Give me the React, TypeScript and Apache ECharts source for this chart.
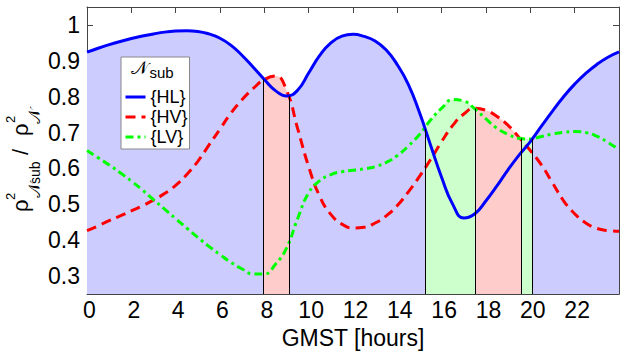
import React, { useEffect, useRef } from "react";
import * as echarts from "echarts";

const hours = [0, 0.5, 1, 1.5, 2, 2.5, 3, 3.5, 4, 4.5, 5, 5.5, 6, 6.5, 7, 7.5, 8, 8.5, 9, 9.5, 10, 10.5, 11, 11.5, 12, 12.5, 13, 13.5, 14, 14.5, 15, 15.5, 16, 16.5, 17, 17.5, 18, 18.5, 19, 19.5, 20, 20.5, 21, 21.5, 22, 22.5, 23, 23.5, 24];

const hlValues = [0.924, 0.935, 0.945, 0.954, 0.962, 0.969, 0.975, 0.98, 0.983, 0.984, 0.982, 0.975, 0.963, 0.943, 0.915, 0.882, 0.848, 0.817, 0.802, 0.818, 0.866, 0.915, 0.95, 0.969, 0.974, 0.968, 0.955, 0.93, 0.889, 0.834, 0.756, 0.665, 0.575, 0.5, 0.462, 0.474, 0.51, 0.552, 0.597, 0.638, 0.675, 0.718, 0.76, 0.8, 0.835, 0.865, 0.89, 0.91, 0.925];

const hvValues = [0.427, 0.44, 0.455, 0.468, 0.482, 0.496, 0.512, 0.53, 0.553, 0.583, 0.62, 0.665, 0.71, 0.755, 0.792, 0.823, 0.848, 0.858, 0.818, 0.712, 0.605, 0.522, 0.472, 0.445, 0.434, 0.436, 0.448, 0.468, 0.497, 0.535, 0.578, 0.625, 0.675, 0.72, 0.752, 0.768, 0.762, 0.745, 0.72, 0.686, 0.65, 0.61, 0.56, 0.51, 0.474, 0.448, 0.433, 0.427, 0.425];

const lvValues = [0.65, 0.63, 0.61, 0.588, 0.565, 0.54, 0.513, 0.487, 0.46, 0.434, 0.408, 0.383, 0.36, 0.338, 0.32, 0.306, 0.306, 0.333, 0.378, 0.46, 0.532, 0.566, 0.583, 0.591, 0.595, 0.599, 0.605, 0.617, 0.636, 0.663, 0.695, 0.735, 0.768, 0.792, 0.788, 0.766, 0.738, 0.712, 0.695, 0.684, 0.682, 0.689, 0.696, 0.701, 0.703, 0.7, 0.69, 0.673, 0.652];

const seriesNames = ["{HL}", "{HV}", "{LV}"];
// x positions where the dominant subnetwork changes, and curve height there
const boundaries = [7.95, 9.13, 15.26, 17.53, 19.6, 20.1];
const boundaryTops = [0.848, 0.801, 0.709, 0.767, 0.684, 0.682];
// index of the dominant series in each region between boundaries (0=HL,1=HV,2=LV)
const regionOwner = [0, 1, 0, 2, 1, 2, 0];

const lineColors = ["#0000ff", "#ff0000", "#00ff00"];
const fillColors = ["#ccccff", "#ffcccc", "#ccffcc"];
const FF = "'Liberation Sans', Arial, sans-serif";
const MATHF = "'DejaVu Sans', 'DejaVu Serif', 'Noto Sans', sans-serif";
const FRAME = "#444";

export default function App() {
  const ref = useRef<HTMLDivElement>(null);
  useEffect(() => {
    if (!ref.current) return;
    const chart = echarts.init(ref.current, undefined, { renderer: "svg" });
    const all = [hlValues, hvValues, lvValues];
    const pairs = all.map((vals) => hours.map((h, i) => [h, vals[i]]));

    const fillSeries = all.map((_, s) => ({
      type: "line",
      name: "fill" + s,
      data: pairs[s],
      smooth: true,
      symbol: "none",
      lineStyle: { width: 0, opacity: 0 },
      areaStyle: { opacity: 1, origin: "start" },
      silent: true,
      z: 1,
      ...(s === 2
        ? {
            markLine: {
              silent: true,
              symbol: ["none", "none"],
              label: { show: false },
              lineStyle: { color: "#000", width: 1, type: "solid" },
              data: boundaries.map((b, i) => [
                { coord: [b, 0.25] },
                { coord: [b, boundaryTops[i]] },
              ]),
            },
          }
        : {}),
    }));

    const visualMaps = all.map((_, s) => ({
      type: "piecewise",
      show: false,
      dimension: 0,
      seriesIndex: s,
      pieces: regionOwner.map((owner, r) => {
        const p: any = { color: owner === s ? fillColors[s] : "rgba(0,0,0,0)" };
        if (r > 0) p.gte = boundaries[r - 1];
        if (r < boundaries.length) p.lt = boundaries[r];
        return p;
      }),
    }));

    const lineDefs = [
      { s: 1, type: [10, 6] },
      { s: 2, type: [8, 4, 3, 4] },
      { s: 0, type: "solid" },
    ];
    const lineSeries = lineDefs.map((d) => ({
      type: "line",
      name: seriesNames[d.s],
      data: pairs[d.s],
      smooth: true,
      symbol: "none",
      color: lineColors[d.s],
      lineStyle: { color: lineColors[d.s], width: 3, type: d.type as any },
      z: 3,
    }));

    const yFmt = (v: number) => {
      if (Math.abs(v - 0.25) < 1e-6 || Math.abs(v - 1.05) < 1e-6) return "";
      if (Math.abs(v - 1) < 1e-6) return "1";
      return v.toFixed(1);
    };

    const axisCommon = {
      axisLine: { show: true, onZero: false, lineStyle: { color: FRAME, width: 1 } },
      axisTick: { show: true, inside: true, length: 6, lineStyle: { color: FRAME, width: 1 } },
      splitLine: { show: false },
    };

    const txt = (x: number, y: number, text: string, size: number, family: string) => ({
      type: "text",
      x,
      y,
      style: { text, fontSize: size, fontFamily: family, fill: "#000", align: "left", verticalAlign: "middle" },
    });

    chart.setOption({
      animation: false,
      backgroundColor: "#fff",
      grid: { left: 87, top: 7, width: 532, height: 290, containLabel: false },
      xAxis: [
        {
          type: "value",
          min: 0,
          max: 24,
          interval: 2,
          position: "bottom",
          ...axisCommon,
          axisLabel: {
            fontSize: 23,
            color: "#000",
            fontFamily: FF,
            margin: 4,
            padding: [0, 0, 0, 5],
            formatter: (v: number) => (v >= 24 ? "" : String(v)),
          },
          name: "GMST [hours]",
          nameLocation: "middle",
          nameGap: 30,
          nameTextStyle: { fontSize: 23, color: "#000", fontFamily: FF },
        },
        {
          type: "value",
          min: 0,
          max: 24,
          interval: 2,
          position: "top",
          ...axisCommon,
          axisLabel: { show: false },
        },
      ],
      yAxis: [
        {
          type: "value",
          min: 0.25,
          max: 1.05,
          splitNumber: 8,
          position: "left",
          ...axisCommon,
          axisLabel: { fontSize: 23, color: "#000", fontFamily: FF, margin: 7, formatter: yFmt },
        },
        {
          type: "value",
          min: 0.25,
          max: 1.05,
          splitNumber: 8,
          position: "right",
          ...axisCommon,
          axisLabel: { show: false },
        },
      ],
      visualMap: visualMaps,
      legend: {
        data: seriesNames,
        orient: "vertical",
        left: 121,
        top: 57,
        padding: [31, 2, 3, 3],
        itemGap: 2,
        itemWidth: 20,
        itemHeight: 10,
        itemStyle: { color: "rgba(0,0,0,0)", borderWidth: 0, opacity: 0 },
        lineStyle: { width: 3 },
        backgroundColor: "#fff",
        borderColor: "#888",
        borderWidth: 1,
        borderRadius: 0,
        textStyle: { fontSize: 18, color: "#000", fontFamily: FF },
        selectedMode: false,
      },
      graphic: [
        {
          type: "text",
          x: 139,
          y: 67.5,
          z: 100,
          style: { text: "𝒩", fontSize: 18, fontFamily: MATHF, fill: "#000", align: "center", verticalAlign: "middle" },
        },
        {
          type: "text",
          x: 161.5,
          y: 72.8,
          z: 100,
          style: { text: "sub", fontSize: 15, fontFamily: FF, fill: "#000", align: "center", verticalAlign: "middle" },
        },
        {
          type: "group",
          x: 28,
          y: 212,
          rotation: Math.PI / 2,
          z: 100,
          children: [
            txt(0, -7.7, "ρ", 22, FF),
            txt(12, -17.5, "2", 13, FF),
            txt(14, 6, "𝒩", 16, MATHF),
            txt(28, 7, "sub", 14, FF),
            txt(57, -7.7, "/", 22, FF),
            txt(76, -7.7, "ρ", 22, FF),
            txt(89, -17.5, "2", 13, FF),
            txt(88, 6, "𝒩", 16, MATHF),
          ],
        },
      ],
      series: [...fillSeries, ...lineSeries],
    });
    return () => chart.dispose();
  }, []);
  return (
    <div
      ref={ref}
      style={{ position: "fixed", left: 0, top: 0, width: 627, height: 354 }}
    />
  );
}
